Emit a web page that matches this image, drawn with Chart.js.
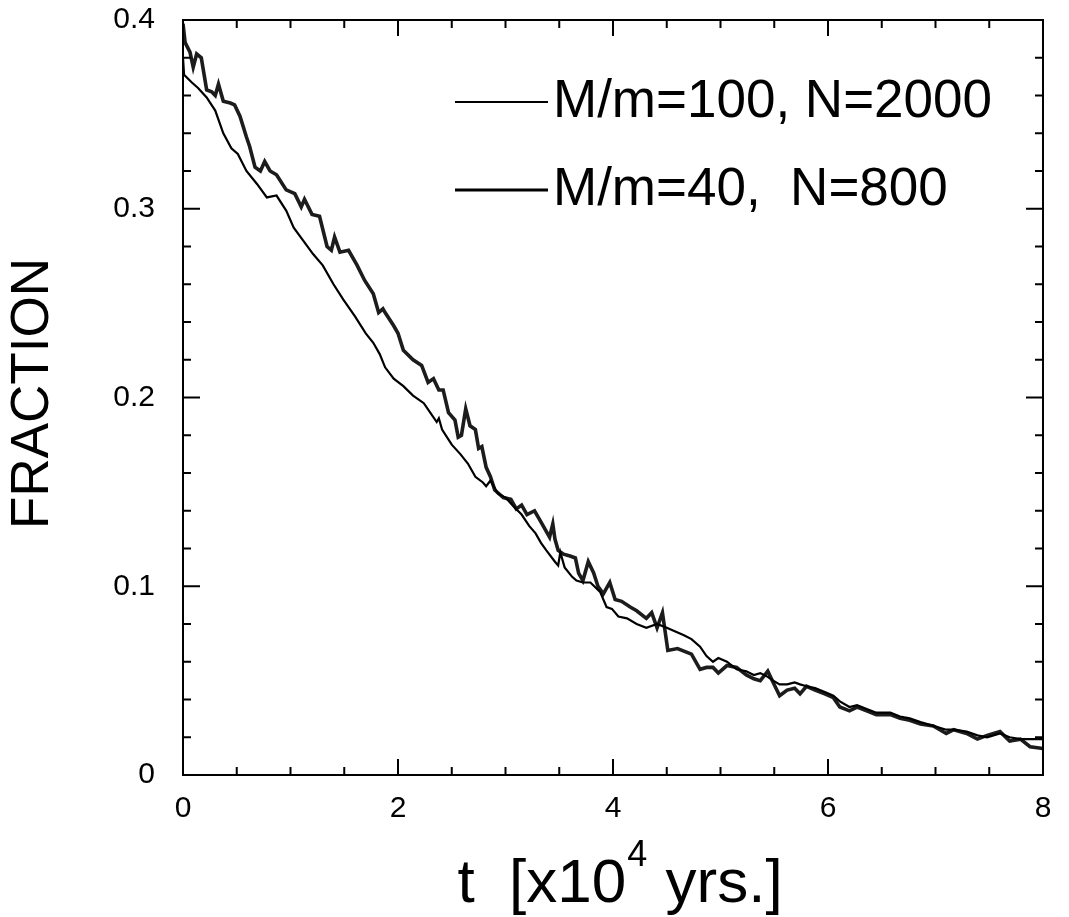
<!DOCTYPE html>
<html>
<head>
<meta charset="utf-8">
<script src="https://cdn.jsdelivr.net/npm/chart.js@4"></script>
<style>
  html, body { margin: 0; padding: 0; background: #fff; }
  #wrap { width: 1069px; height: 917px; }
</style>
</head>
<body>
<div id="wrap"><canvas id="fracChart"></canvas></div>
<script>
// M/m=40, N=800 (thick, noisy)
const t40 = [0.00, 0.02, 0.065, 0.095, 0.127, 0.17, 0.22, 0.267, 0.30, 0.33, 0.375, 0.44, 0.48, 0.53, 0.59, 0.62, 0.67, 0.72, 0.76, 0.81,
  0.87, 0.96, 1.04, 1.10, 1.13, 1.20, 1.27, 1.34, 1.38, 1.41, 1.46, 1.54, 1.62, 1.69, 1.77, 1.82, 1.86, 1.88, 1.96, 2.00,
  2.05, 2.14, 2.22, 2.28, 2.33, 2.38, 2.42, 2.47, 2.53, 2.56, 2.59, 2.63, 2.67, 2.72, 2.75, 2.78, 2.82, 2.86, 2.90, 2.98,
  3.05, 3.10, 3.15, 3.20, 3.27, 3.32, 3.37, 3.41, 3.44, 3.46, 3.49, 3.54, 3.60, 3.65, 3.68, 3.72, 3.77, 3.82, 3.86, 3.91,
  3.97, 4.02, 4.08, 4.16, 4.22, 4.31, 4.36, 4.41, 4.46, 4.51, 4.60, 4.73, 4.81, 4.87, 4.93, 4.98, 5.06, 5.15, 5.24, 5.31,
  5.37, 5.44, 5.49, 5.55, 5.62, 5.69, 5.74, 5.80, 5.88, 5.97, 6.05, 6.11, 6.20, 6.27, 6.36, 6.45, 6.58, 6.67, 6.76, 6.86,
  6.98, 7.10, 7.17, 7.29, 7.39, 7.48, 7.60, 7.69, 7.79, 7.88, 8.00];
const f40 = [0.398, 0.388, 0.383, 0.375, 0.382, 0.380, 0.363, 0.362, 0.360, 0.366, 0.357, 0.356, 0.355, 0.349, 0.338, 0.333, 0.322, 0.320, 0.325, 0.320,
  0.318, 0.310, 0.308, 0.301, 0.305, 0.297, 0.296, 0.280, 0.278, 0.285, 0.277, 0.278, 0.270, 0.262, 0.255, 0.245, 0.247, 0.245, 0.238, 0.234,
  0.225, 0.220, 0.217, 0.208, 0.210, 0.204, 0.204, 0.192, 0.188, 0.179, 0.180, 0.194, 0.185, 0.183, 0.173, 0.174, 0.163, 0.158, 0.151, 0.147,
  0.146, 0.141, 0.143, 0.138, 0.140, 0.135, 0.130, 0.126, 0.133, 0.125, 0.119, 0.117, 0.116, 0.115, 0.107, 0.103, 0.113, 0.107, 0.100, 0.096,
  0.102, 0.093, 0.092, 0.089, 0.087, 0.083, 0.086, 0.078, 0.086, 0.066, 0.067, 0.064, 0.056, 0.057, 0.057, 0.054, 0.058, 0.057, 0.053, 0.051,
  0.050, 0.055, 0.049, 0.042, 0.045, 0.046, 0.043, 0.047, 0.045, 0.043, 0.041, 0.036, 0.034, 0.036, 0.034, 0.032, 0.032, 0.030, 0.029, 0.027,
  0.026, 0.022, 0.024, 0.022, 0.019, 0.021, 0.023, 0.018, 0.019, 0.015, 0.014];

// M/m=100, N=2000 (thin, smoother)
const t100 = [0.00, 0.01, 0.08, 0.14, 0.22, 0.30, 0.375, 0.45, 0.51, 0.59, 0.69, 0.78, 0.87, 0.96, 1.03, 1.12, 1.21, 1.30, 1.40, 1.49,
  1.60, 1.70, 1.77, 1.83, 1.88, 1.96, 2.05, 2.14, 2.24, 2.30, 2.36, 2.38, 2.41, 2.50, 2.58, 2.65, 2.72, 2.79, 2.82, 2.86,
  2.93, 3.00, 3.08, 3.15, 3.22, 3.28, 3.33, 3.38, 3.46, 3.49, 3.51, 3.55, 3.62, 3.66, 3.72, 3.79, 3.88, 3.94, 3.99, 4.05,
  4.13, 4.22, 4.31, 4.41, 4.50, 4.58, 4.66, 4.73, 4.81, 4.87, 4.93, 4.98, 5.06, 5.15, 5.24, 5.31, 5.37, 5.44, 5.49, 5.55,
  5.62, 5.69, 5.74, 5.80, 5.88, 5.97, 6.05, 6.11, 6.20, 6.27, 6.36, 6.45, 6.58, 6.67, 6.76, 6.86, 6.98, 7.10, 7.17, 7.29,
  7.39, 7.48, 7.60, 7.69, 7.79, 7.88, 8.00];
const f100 = [0.380, 0.371, 0.367, 0.364, 0.359, 0.352, 0.340, 0.332, 0.329, 0.320, 0.313, 0.306, 0.307, 0.299, 0.290, 0.283, 0.276, 0.270, 0.260, 0.252,
  0.243, 0.234, 0.229, 0.223, 0.216, 0.210, 0.206, 0.201, 0.197, 0.192, 0.187, 0.189, 0.183, 0.175, 0.170, 0.165, 0.158, 0.155, 0.153, 0.156,
  0.149, 0.147, 0.142, 0.138, 0.132, 0.128, 0.123, 0.119, 0.113, 0.111, 0.118, 0.110, 0.105, 0.103, 0.102, 0.102, 0.097, 0.089, 0.088, 0.084,
  0.083, 0.080, 0.078, 0.080, 0.078, 0.076, 0.074, 0.072, 0.068, 0.063, 0.060, 0.062, 0.060, 0.056, 0.055, 0.053, 0.054, 0.052, 0.050, 0.048,
  0.048, 0.049, 0.048, 0.047, 0.046, 0.044, 0.042, 0.039, 0.036, 0.037, 0.035, 0.033, 0.033, 0.031, 0.030, 0.028, 0.026, 0.024, 0.024, 0.023,
  0.021, 0.020, 0.022, 0.020, 0.019, 0.019, 0.019];

const seriesLabels = ['M/m=100, N=2000', 'M/m=40,  N=800'];
const xTicks = [0, 2, 4, 6, 8];
const yTicks = [0, 0.1, 0.2, 0.3, 0.4];
const xMinorStep = 0.5;
const yMinorStep = 0.02;

const FONT = '"Liberation Sans", Arial, Helvetica, sans-serif';

function toPoints(xs, ys) {
  return xs.map((x, i) => ({ x: x, y: ys[i] }));
}

// frame, inward ticks, legend and axis titles
const decorPlugin = {
  id: 'decor',
  afterDraw(chart) {
    const ctx = chart.ctx;
    const a = chart.chartArea;
    const xs = chart.scales.x;
    const ys = chart.scales.y;
    ctx.save();
    ctx.strokeStyle = '#000';
    ctx.lineWidth = 2;
    ctx.strokeRect(a.left, a.top, a.right - a.left, a.bottom - a.top);

    ctx.beginPath();
    for (let v = 0; v <= 8.0001; v += xMinorStep) {
      const px = xs.getPixelForValue(v);
      const len = Math.abs(v % 2) < 1e-6 ? 16 : 8;
      ctx.moveTo(px, a.bottom); ctx.lineTo(px, a.bottom - len);
      ctx.moveTo(px, a.top); ctx.lineTo(px, a.top + len);
    }
    for (let k = 0; k <= 20; k++) {
      const v = k * yMinorStep;
      const py = ys.getPixelForValue(v);
      const len = k % 5 === 0 ? 17 : 8;
      ctx.moveTo(a.left, py); ctx.lineTo(a.left + len, py);
      ctx.moveTo(a.right, py); ctx.lineTo(a.right - len, py);
    }
    ctx.stroke();

    // legend inside the plot
    ctx.fillStyle = '#000';
    ctx.font = '53px ' + FONT;
    ctx.textBaseline = 'middle';
    ctx.textAlign = 'left';
    const rows = [102, 190];
    chart.data.datasets.forEach((ds, i) => {
      ctx.beginPath();
      ctx.lineWidth = i === 0 ? 2 : 2.8;
      ctx.moveTo(455, rows[i]); ctx.lineTo(548, rows[i]);
      ctx.stroke();
      ctx.fillText(ds.label, 553, rows[i]);
    });

    // y title
    ctx.save();
    ctx.translate(33, (a.top + a.bottom) / 2 - 4);
    ctx.rotate(-Math.PI / 2);
    ctx.textAlign = 'center';
    ctx.textBaseline = 'middle';
    ctx.font = '53px ' + FONT;
    ctx.fillText('FRACTION', 0, 0);
    ctx.restore();

    // x title with superscript
    const big = '62px ' + FONT, small = '36px ' + FONT;
    const p1 = 't  [x10', p2 = '4', p3 = ' yrs.]';
    ctx.font = big; const w1 = ctx.measureText(p1).width; const w3 = ctx.measureText(p3).width;
    ctx.font = small; const w2 = ctx.measureText(p2).width;
    let x0 = (a.left + a.right) / 2 + 6 - (w1 + w2 + w3) / 2;
    const base = 902;
    ctx.textBaseline = 'alphabetic';
    ctx.font = big; ctx.fillText(p1, x0, base);
    ctx.font = small; ctx.fillText(p2, x0 + w1 + 1, base - 36);
    ctx.font = big; ctx.fillText(p3, x0 + w1 + w2 + 2, base);
    ctx.restore();
  }
};

const ctx = document.getElementById('fracChart').getContext('2d');
new Chart(ctx, {
  type: 'line',
  data: {
    datasets: [
      {
        label: seriesLabels[0],
        data: toPoints(t100, f100),
        borderColor: '#000',
        borderWidth: 2.2,
        pointRadius: 0,
        tension: 0
      },
      {
        label: seriesLabels[1],
        data: toPoints(t40, f40),
        borderColor: '#1c1c1c',
        borderWidth: 3.6,
        pointRadius: 0,
        tension: 0
      }
    ]
  },
  options: {
    responsive: true,
    maintainAspectRatio: false,
    animation: false,
    events: [],
    layout: { padding: { top: 20, right: 26, left: 0, bottom: 0 } },
    plugins: {
      legend: { display: false },
      tooltip: { enabled: false }
    },
    scales: {
      x: {
        type: 'linear',
        min: 0,
        max: 8,
        // fixed box: plot bottom at y=775
        afterFit: s => { s.height = 142; s.paddingLeft = 0; s.paddingRight = 0; },
        afterBuildTicks: s => { s.ticks = xTicks.map(v => ({ value: v })); },
        grid: { display: false, drawTicks: false },
        border: { display: false },
        ticks: { color: '#000', padding: 16, maxRotation: 0, font: { family: FONT, size: 30 } }
      },
      y: {
        type: 'linear',
        min: 0,
        max: 0.4,
        // fixed box: plot left at x=183
        afterFit: s => { s.width = 183; s.paddingTop = 0; s.paddingBottom = 0; },
        afterBuildTicks: s => { s.ticks = yTicks.map(v => ({ value: v })); },
        grid: { display: false, drawTicks: false },
        border: { display: false },
        ticks: { color: '#000', padding: 28, font: { family: FONT, size: 30 } }
      }
    }
  },
  plugins: [decorPlugin]
});
</script>
</body>
</html>
